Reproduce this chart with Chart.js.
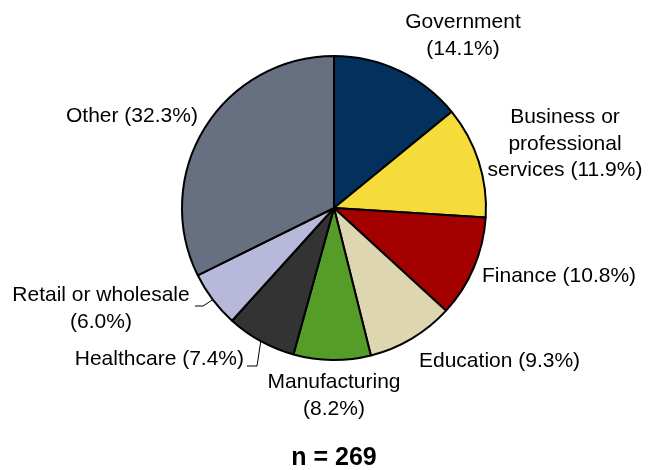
<!DOCTYPE html>
<html>
<head>
<meta charset="utf-8">
<script src="https://cdn.jsdelivr.net/npm/chart.js@4"></script>
<style>
  body { margin: 0; background: #fff; }
  #IndustryShare { display: block; }
</style>
</head>
<body>
<canvas id="IndustryShare" width="648" height="470"></canvas>
<script>
const industries = ['Government', 'Business or\nprofessional\nservices', 'Finance', 'Education', 'Manufacturing', 'Healthcare', 'Retail or wholesale', 'Other'];
const shares = [14.1, 11.9, 10.8, 9.3, 8.2, 7.4, 6.0, 32.3];
const respondents = 269;

const sliceColors = ['#04305e', '#f6dc3a', '#a30000', '#ddd6b0', '#569c28', '#333333', '#b8b8da', '#667080'];

// label spots: x/y = first baseline, pctBreak puts the percentage on its own line
const labelSpots = [
    { x: 463, y: 28, align: 'center', pctBreak: true },
    { x: 565, y: 123, align: 'center' },
    { x: 482, y: 282, align: 'left' },
    { x: 419, y: 367, align: 'left' },
    { x: 334, y: 388, align: 'center', pctBreak: true },
    { x: 244, y: 365, align: 'right', leader: [[257, 366], [247, 366]] },
    { x: 101, y: 301, align: 'center', pctBreak: true, leader: [[203, 306], [195, 306]] },
    { x: 66, y: 122, align: 'left' }
];

const FONT = '"Liberation Sans", Arial, sans-serif';
const LINE_H = 26.5;

const sliceLabels = {
    id: 'sliceLabels',
    afterDraw(chart) {
        const ctx = chart.ctx;
        const arcs = chart.getDatasetMeta(0).data;
        ctx.save();
        ctx.fillStyle = '#000';
        ctx.strokeStyle = '#000';
        ctx.font = `21px ${FONT}`;
        ctx.textBaseline = 'alphabetic';

        industries.forEach((name, i) => {
            const spot = labelSpots[i];
            const pct = `(${shares[i].toFixed(1)}%)`;
            let lines = name.split('\n');
            if (spot.pctBreak) {
                lines.push(pct);
            } else {
                lines[lines.length - 1] += ' ' + pct;
            }
            ctx.textAlign = spot.align;
            lines.forEach((line, k) => {
                ctx.fillText(line, spot.x, spot.y + k * LINE_H);
            });

            // leader line from the slice edge
            if (spot.leader) {
                const arc = arcs[i];
                const mid = (arc.startAngle + arc.endAngle) / 2;
                ctx.lineWidth = 1;
                ctx.beginPath();
                ctx.moveTo(arc.x + Math.cos(mid) * arc.outerRadius, arc.y + Math.sin(mid) * arc.outerRadius);
                spot.leader.forEach(([px, py]) => ctx.lineTo(px, py));
                ctx.stroke();
            }
        });

        // sample size under the pie
        ctx.font = `bold 25px ${FONT}`;
        ctx.textAlign = 'center';
        ctx.fillText(`n = ${respondents}`, 334, 465);
        ctx.restore();
    }
};

new Chart(document.getElementById('IndustryShare'),
{
    type: 'pie',
    data: {
        labels: industries,
        datasets: [{
            data: shares,
            backgroundColor: sliceColors,
            borderColor: '#000',
            borderWidth: 2
        }]
    },
    options: {
        responsive: false,
        animation: false,
        events: [],
        layout: {
            padding: { left: 181, right: 161, top: 55, bottom: 109 }
        },
        plugins: {
            legend: { display: false },
            tooltip: { enabled: false }
        }
    },
    plugins: [sliceLabels]
});
</script>
</body>
</html>
